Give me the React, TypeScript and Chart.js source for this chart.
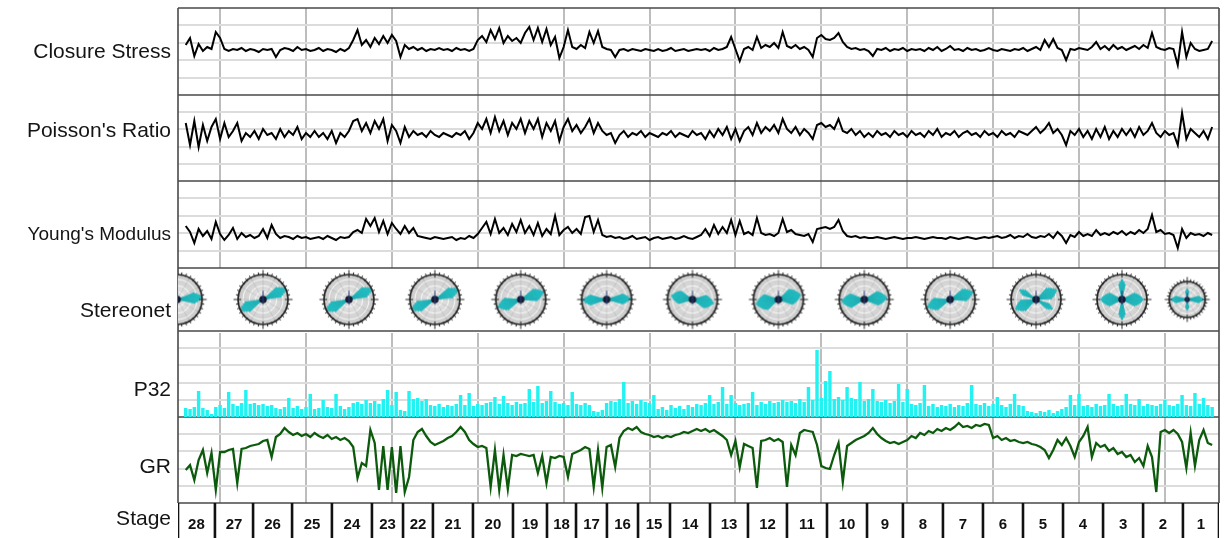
import React, { useEffect, useRef } from 'react';
import { Chart, registerables } from 'chart.js';

Chart.register(...registerables);

// ---------------- depth axis ----------------
const MD_MIN = 9755;
const MD_MAX = 15815;
const MD_START = 9800;
const MD_STEP = 25;
const GRID_MD = [10000, 10500, 11000, 11500, 12000, 12500, 13000, 13500, 14000, 14500, 15000, 15500];

// ---------------- stages ----------------
const STAGE_BOUNDS = [9755, 9970, 10192, 10419, 10651, 10884, 11065, 11239, 11472, 11705, 11903, 12072, 12252, 12433, 12619, 12852, 13073, 13300, 13533, 13766, 13975, 14208, 14441, 14674, 14907, 15140, 15373, 15605, 15815];
const STAGE_LABELS = ['28', '27', '26', '25', '24', '23', '22', '21', '20', '19', '18', '17', '16', '15', '14', '13', '12', '11', '10', '9', '8', '7', '6', '5', '4', '3', '2', '1'];

const TRACK_LABELS = ['Closure Stress', "Poisson's Ratio", "Young's Modulus", 'Stereonet', 'P32', 'GR', 'Stage'];

// ---------------- log curves (sampled every 25 ft from 9800 ft) ----------------
const CLOSURE_STRESS = [
  0.90, 0.97, 0.79, 0.91, 0.84, 0.88, 0.86, 1.03, 0.97, 0.86,
  0.84, 0.86, 0.85, 0.87, 0.84, 0.86, 0.85, 0.83, 0.86, 0.85,
  0.86, 0.78, 0.85, 0.87, 0.86, 0.84, 0.88, 0.85, 0.86, 0.84,
  0.85, 0.87, 0.84, 0.86, 0.85, 0.83, 0.86, 0.84, 0.87, 0.95,
  1.05, 0.90, 0.95, 0.88, 0.97, 0.91, 0.99, 0.92, 1.00, 0.94,
  0.78, 0.90, 0.86, 0.88, 0.85, 0.87, 0.84, 0.86, 0.85, 0.87,
  0.85, 0.86, 0.84, 0.87, 0.85, 0.86, 0.84, 0.86, 0.95, 0.99,
  0.93, 1.05, 0.96, 1.07, 0.92, 0.99, 0.94, 0.97, 0.92, 1.02,
  1.08, 0.95, 1.07, 0.93, 1.06, 0.90, 0.98, 0.77, 0.88, 1.05,
  0.88, 0.86, 0.90, 0.87, 1.03, 0.92, 1.04, 0.88, 0.86, 0.85,
  0.78, 0.85, 0.86, 0.84, 0.86, 0.85, 0.84, 0.86, 0.85, 0.84,
  0.86, 0.84, 0.85, 0.87, 0.84, 0.85, 0.86, 0.84, 0.85, 0.86,
  0.85, 0.86, 0.84, 0.87, 0.85, 0.86, 0.88, 0.98, 0.86, 0.74,
  0.86, 0.88, 0.85, 0.98, 0.87, 0.90, 0.88, 0.92, 0.87, 1.03,
  0.89, 0.87, 0.90, 0.86, 0.88, 0.85, 0.78, 0.97, 1.00, 0.96,
  0.95, 0.97, 1.02, 0.93, 0.88, 0.86, 0.87, 0.85, 0.86, 0.84,
  0.79, 0.86, 0.85, 0.87, 0.84, 0.86, 0.85, 0.87, 0.84, 0.86,
  0.85, 0.86, 0.84, 0.87, 0.85, 0.88, 0.84, 0.86, 0.89, 0.85,
  0.86, 0.84, 0.87, 0.85, 0.86, 0.84, 0.85, 0.87, 0.85, 0.84,
  0.86, 0.85, 0.84, 0.86, 0.85, 0.87, 0.84, 0.86, 0.88, 0.85,
  0.95, 0.88, 0.96, 0.87, 0.85, 0.75, 0.86, 0.85, 0.87, 0.86,
  0.85, 0.88, 0.93, 0.86, 0.89, 0.85, 0.90, 0.86, 0.88, 0.85,
  0.87, 0.89, 0.86, 0.90, 0.87, 1.02, 0.88, 0.86, 0.85, 0.87,
  0.86, 0.70, 1.03, 0.78, 0.92, 0.86, 0.84, 0.85, 0.86, 0.94,
];

const POISSONS_RATIO = [
  0.29, 0.18, 0.30, 0.17, 0.28, 0.20, 0.27, 0.31, 0.21, 0.29,
  0.22, 0.25, 0.29, 0.20, 0.24, 0.22, 0.25, 0.21, 0.26, 0.23,
  0.24, 0.21, 0.26, 0.22, 0.25, 0.23, 0.27, 0.21, 0.24, 0.22,
  0.25, 0.22, 0.24, 0.21, 0.25, 0.19, 0.24, 0.22, 0.25, 0.30,
  0.31, 0.25, 0.29, 0.24, 0.30, 0.26, 0.31, 0.20, 0.28, 0.25,
  0.19, 0.27, 0.22, 0.25, 0.23, 0.24, 0.22, 0.25, 0.23, 0.22,
  0.24, 0.23, 0.22, 0.24, 0.23, 0.25, 0.21, 0.24, 0.29, 0.26,
  0.31, 0.24, 0.32, 0.25, 0.30, 0.23, 0.29, 0.26, 0.31, 0.24,
  0.30, 0.26, 0.31, 0.22, 0.29, 0.25, 0.30, 0.20, 0.27, 0.31,
  0.25, 0.28, 0.24, 0.27, 0.31, 0.24, 0.29, 0.25, 0.23, 0.24,
  0.19, 0.23, 0.25, 0.22, 0.24, 0.23, 0.25, 0.22, 0.24, 0.23,
  0.22, 0.24, 0.23, 0.25, 0.22, 0.24, 0.23, 0.22, 0.25, 0.23,
  0.24, 0.21, 0.25, 0.22, 0.26, 0.23, 0.27, 0.21, 0.26, 0.20,
  0.25, 0.27, 0.23, 0.29, 0.24, 0.27, 0.25, 0.28, 0.24, 0.31,
  0.26, 0.24, 0.27, 0.23, 0.26, 0.24, 0.21, 0.28, 0.29, 0.27,
  0.28, 0.26, 0.31, 0.25, 0.24, 0.26, 0.23, 0.25, 0.22, 0.24,
  0.22, 0.25, 0.23, 0.24, 0.22, 0.25, 0.23, 0.24, 0.22, 0.25,
  0.23, 0.24, 0.22, 0.25, 0.23, 0.26, 0.22, 0.24, 0.23, 0.25,
  0.22, 0.24, 0.25, 0.23, 0.24, 0.22, 0.25, 0.23, 0.24, 0.22,
  0.25, 0.23, 0.24, 0.22, 0.25, 0.24, 0.23, 0.25, 0.27, 0.24,
  0.26, 0.29, 0.24, 0.26, 0.23, 0.18, 0.25, 0.23, 0.26, 0.22,
  0.25, 0.21, 0.26, 0.22, 0.27, 0.21, 0.25, 0.22, 0.26, 0.23,
  0.26, 0.22, 0.27, 0.23, 0.25, 0.29, 0.24, 0.22, 0.25, 0.23,
  0.24, 0.18, 0.34, 0.21, 0.26, 0.24, 0.22, 0.25, 0.21, 0.27,
];

const YOUNGS_MODULUS = [
  4.2, 3.6, 2.5, 3.9, 3.2, 3.7, 2.9, 4.6, 3.4, 2.8,
  3.3, 4.0, 2.9, 3.5, 3.1, 3.3, 3.0, 3.2, 3.9, 3.0,
  4.3, 3.4, 3.0, 3.2, 3.1, 2.9, 3.2, 3.0, 3.1, 2.9,
  3.0, 3.1, 2.9, 3.2, 3.0, 2.8, 3.1, 3.0, 3.1, 3.6,
  3.8, 3.5, 4.9, 4.2, 5.0, 3.6, 4.7, 3.4, 4.5, 3.9,
  3.4, 4.2, 3.5, 4.0, 3.2, 3.1, 3.0, 2.9, 3.1, 3.0,
  2.9, 3.0, 3.1, 2.8, 3.0, 2.9, 3.2, 3.0, 3.4, 4.0,
  4.6, 3.4, 4.9, 3.5, 4.0, 3.3, 4.4, 3.6, 4.8, 3.5,
  4.2, 3.3, 4.5, 3.2, 3.9, 3.4, 5.2, 3.3, 3.8, 4.1,
  3.5, 3.9, 3.4, 5.1, 5.2, 3.6, 4.8, 3.3, 3.1, 3.2,
  3.0, 3.1, 2.9, 3.0, 3.2, 2.9, 3.0, 3.1, 2.8, 3.0,
  3.1, 2.9, 3.0, 3.1, 2.9, 3.0, 3.2, 3.0, 2.9, 3.1,
  3.3, 3.9, 3.2, 4.3, 3.4, 4.1, 3.5, 4.8, 3.3, 4.7,
  3.4, 3.6, 3.3, 5.0, 3.5, 3.3, 3.4, 3.2, 3.5, 4.9,
  3.6, 3.8, 3.4, 3.3, 3.2, 3.4, 2.6, 3.9, 4.0, 4.1,
  3.9, 4.1, 4.8, 3.7, 3.2, 3.1, 3.2, 3.0, 3.1, 3.0,
  3.0, 3.1, 3.0, 2.9, 3.0, 3.1, 3.0, 2.9, 3.0, 3.0,
  3.1, 3.0, 2.9, 3.0, 3.1, 3.0, 3.0, 2.9, 3.1, 3.0,
  2.9, 3.0, 3.1, 3.0, 2.9, 3.0, 3.1, 3.0, 3.1, 3.2,
  3.0, 3.1, 3.3, 3.0, 3.2, 3.1, 3.4, 3.1, 3.0, 3.2,
  3.1, 3.4, 3.0, 3.6, 3.2, 2.5, 3.3, 3.1, 3.6, 3.2,
  3.4, 3.2, 3.8, 3.3, 3.5, 3.3, 3.6, 3.4, 3.7, 3.3,
  3.6, 3.4, 3.8, 3.5, 3.9, 5.3, 3.6, 3.8, 3.4, 3.5,
  3.3, 2.0, 3.9, 3.0, 3.5, 3.3, 3.4, 3.2, 3.5, 3.3,
];

const P32 = [
  0.09, 0.08, 0.10, 0.26, 0.09, 0.07, 0.03, 0.10, 0.12, 0.09,
  0.25, 0.13, 0.11, 0.14, 0.27, 0.13, 0.14, 0.12, 0.13, 0.11,
  0.12, 0.09, 0.08, 0.10, 0.19, 0.09, 0.11, 0.08, 0.10, 0.23,
  0.08, 0.09, 0.17, 0.10, 0.09, 0.23, 0.11, 0.08, 0.10, 0.14,
  0.15, 0.13, 0.17, 0.14, 0.16, 0.13, 0.18, 0.27, 0.12, 0.25,
  0.07, 0.06, 0.26, 0.18, 0.19, 0.16, 0.18, 0.12, 0.11, 0.13,
  0.10, 0.12, 0.11, 0.13, 0.22, 0.12, 0.24, 0.11, 0.13, 0.12,
  0.14, 0.15, 0.20, 0.13, 0.21, 0.14, 0.12, 0.15, 0.13, 0.14,
  0.28, 0.15, 0.31, 0.14, 0.16, 0.26, 0.15, 0.13, 0.14, 0.12,
  0.25, 0.13, 0.12, 0.14, 0.12, 0.06, 0.05, 0.07, 0.14, 0.16,
  0.15, 0.18, 0.35, 0.14, 0.16, 0.13, 0.17, 0.15, 0.14, 0.22,
  0.08, 0.10, 0.07, 0.12, 0.09, 0.11, 0.08, 0.12, 0.10, 0.13,
  0.12, 0.14, 0.22, 0.13, 0.15, 0.30, 0.13, 0.22, 0.14, 0.12,
  0.13, 0.14, 0.25, 0.12, 0.15, 0.13, 0.16, 0.14, 0.15, 0.17,
  0.15, 0.16, 0.14, 0.18, 0.15, 0.30, 0.17, 0.67, 0.19, 0.36,
  0.46, 0.18, 0.20, 0.17, 0.30, 0.19, 0.18, 0.35, 0.16, 0.18,
  0.28, 0.16, 0.15, 0.17, 0.14, 0.16, 0.33, 0.15, 0.28, 0.13,
  0.12, 0.14, 0.32, 0.11, 0.13, 0.10, 0.12, 0.11, 0.13, 0.10,
  0.12, 0.11, 0.14, 0.32, 0.13, 0.12, 0.14, 0.11, 0.13, 0.20,
  0.12, 0.10, 0.13, 0.23, 0.12, 0.11, 0.06, 0.05, 0.04, 0.06,
  0.05, 0.07, 0.04, 0.06, 0.08, 0.10, 0.22, 0.12, 0.23, 0.11,
  0.12, 0.10, 0.13, 0.11, 0.12, 0.23, 0.13, 0.11, 0.12, 0.23,
  0.13, 0.12, 0.18, 0.11, 0.13, 0.12, 0.11, 0.13, 0.17, 0.12,
  0.11, 0.13, 0.22, 0.12, 0.11, 0.24, 0.13, 0.19, 0.12, 0.10,
];

const GR = [
  66, 76, 46, 86, 106, 60, 100, 26, 102, 102,
  106, 108, 40, 108, 110, 114, 116, 118, 124, 126,
  92, 132, 138, 150, 142, 136, 140, 134, 138, 132,
  140, 134, 130, 136, 128, 132, 126, 130, 124, 112,
  50, 80, 74, 146, 120, 26, 114, 26, 112, 20,
  114, 22, 52, 126, 142, 148, 134, 122, 116, 120,
  124, 130, 134, 142, 152, 142, 126, 118, 112, 114,
  110, 32, 106, 26, 96, 28, 96, 94, 98, 96,
  94, 96, 60, 94, 40, 92, 90, 94, 92, 52,
  98, 102, 106, 112, 108, 32, 106, 30, 112, 116,
  72, 130, 144, 150, 146, 152, 142, 138, 136, 132,
  134, 130, 134, 132, 136, 138, 142, 140, 144, 148,
  144, 148, 142, 146, 140, 134, 126, 96, 124, 72,
  118, 114, 110, 30, 124, 126, 130, 124, 128, 122,
  32, 116, 96, 140, 146, 144, 142, 116, 74, 70,
  68, 96, 120, 42, 114, 120, 126, 130, 134, 140,
  150, 138, 130, 124, 120, 122, 118, 122, 126, 134,
  130, 140, 136, 144, 140, 148, 144, 150, 146, 152,
  160, 152, 154, 150, 156, 154, 158, 156, 130, 134,
  126, 130, 124, 126, 122, 120, 122, 118, 116, 112,
  106, 90, 106, 126, 116, 130, 114, 92, 122, 134,
  152, 92, 120, 112, 116, 104, 110, 98, 102, 92,
  96, 82, 90, 74, 114, 92, 22, 142, 146, 140,
  146, 138, 122, 70, 140, 74, 126, 146, 120, 116,
];

// ---------------- stereonet (rose) summaries per stage group ----------------
const STEREO_MD = [9750, 10250, 10750, 11250, 11750, 12250, 12750, 13250, 13750, 14250, 14750, 15250, 15630];
const STEREO_AZ = [85, 65, 65, 67, 72, 88, 100, 78, 85, 72, 65, 90, 90];
const STEREO_SPREAD = [15, 15, 15, 15, 20, 15, 25, 30, 25, 20, 20, 25, 15];
const STEREO_LEN = [1.0, 1.0, 1.0, 1.0, 0.95, 0.95, 0.85, 0.9, 0.9, 0.95, 0.9, 0.85, 0.9];
const STEREO_AZ2 = [0, 0, 0, 0, 0, 0, 0, 0, 0, 0, 120, 0, 0];
const STEREO_LEN2 = [0, 0, 0, 0, 0, 0, 0, 0, 0, 0, 0.75, 0.8, 0.6];
const STEREO_COUNT = [140, 160, 150, 170, 150, 140, 130, 160, 150, 140, 130, 120, 40];

// ---------------- drawing helpers ----------------
function makeStereonet(R: number, az: number, spread: number, len: number, az2: number, len2: number) {
  const pad = 6;
  const size = Math.ceil(2 * R + 2 * pad);
  const c = document.createElement('canvas');
  c.width = size;
  c.height = size;
  const g = c.getContext('2d') as CanvasRenderingContext2D;
  const cx = size / 2;
  const cy = size / 2;
  const rad = (deg: number) => ((deg - 90) * Math.PI) / 180;

  const grad = g.createRadialGradient(cx, cy, 0, cx, cy, R);
  grad.addColorStop(0, '#e9e9e9');
  grad.addColorStop(1, '#cbcbcb');
  g.fillStyle = grad;
  g.beginPath();
  g.arc(cx, cy, R, 0, Math.PI * 2);
  g.fill();

  g.strokeStyle = 'rgba(255,255,255,0.9)';
  g.lineWidth = 1;
  for (const f of [0.3, 0.55, 0.8]) {
    g.beginPath();
    g.arc(cx, cy, R * f, 0, Math.PI * 2);
    g.stroke();
  }
  g.strokeStyle = 'rgba(120,120,120,0.35)';
  g.lineWidth = 0.6;
  for (let a = 0; a < 180; a += 30) {
    g.beginPath();
    g.moveTo(cx + R * Math.cos(rad(a)), cy + R * Math.sin(rad(a)));
    g.lineTo(cx - R * Math.cos(rad(a)), cy - R * Math.sin(rad(a)));
    g.stroke();
  }

  const petal = (a0: number, sp: number, ln: number) => {
    g.fillStyle = '#20c4c9';
    g.strokeStyle = '#18a7ac';
    g.lineWidth = 0.5;
    for (let d = -sp; d <= sp + 0.01; d += 5) {
      const w = 1 - Math.abs(d) / (sp + 10);
      const r = R * ln * (0.55 + 0.45 * w);
      for (const base of [a0, a0 + 180]) {
        g.beginPath();
        g.moveTo(cx, cy);
        g.arc(cx, cy, r, rad(base + d - 2.8), rad(base + d + 2.8));
        g.closePath();
        g.fill();
        g.stroke();
      }
    }
  };
  petal(az, spread, len);
  if (len2 > 0) petal(az2, 10, len2);

  g.fillStyle = '#141c33';
  g.beginPath();
  g.arc(cx, cy, Math.max(2.5, R * 0.15), 0, Math.PI * 2);
  g.fill();
  g.strokeStyle = '#2b3a78';
  g.lineWidth = 1;
  g.beginPath();
  g.moveTo(cx, cy - R * 0.35);
  g.lineTo(cx, cy + R * 0.2);
  g.stroke();

  g.strokeStyle = '#262626';
  g.lineWidth = 1.7;
  g.beginPath();
  g.arc(cx, cy, R, 0, Math.PI * 2);
  g.stroke();
  g.lineWidth = 1;
  for (let a = 0; a < 360; a += 10) {
    const long = a % 90 === 0;
    const r0 = long ? R - 3 : R - 1;
    const r1 = long ? R + 4.5 : R + 2.5;
    g.beginPath();
    g.moveTo(cx + r0 * Math.cos(rad(a)), cy + r0 * Math.sin(rad(a)));
    g.lineTo(cx + r1 * Math.cos(rad(a)), cy + r1 * Math.sin(rad(a)));
    g.stroke();
  }
  return c;
}

const Y_IDS = ['yCS', 'yPR', 'yYM', 'yST', 'yP32', 'yGR', 'yStage'];
const LABEL_FRAC = [0.575, 0.483, 0.678, 0.778, 0.75, 0.648, 0.62];
const LABEL_SIZE = [21, 21, 19, 21, 21, 21, 21];

const trackPlugin = {
  id: 'trackFrame',
  beforeDatasetsDraw(chart: any) {
    const ctx = chart.ctx;
    const a = chart.chartArea;
    ctx.save();
    ctx.fillStyle = '#ffffff';
    for (const id of ['yST', 'yStage']) {
      const s = chart.scales[id];
      ctx.fillRect(a.left, s.top, a.right - a.left, s.bottom - s.top + 2);
    }
    ctx.strokeStyle = '#4a4a4a';
    ctx.lineWidth = 1.6;
    ctx.beginPath();
    for (const id of Y_IDS) {
      const y = Math.round(chart.scales[id].top);
      ctx.moveTo(a.left, y);
      ctx.lineTo(a.right, y);
    }
    const bottom = chart.scales.yStage.top;
    ctx.moveTo(Math.round(a.left), a.top);
    ctx.lineTo(Math.round(a.left), bottom);
    ctx.moveTo(Math.round(a.right), a.top);
    ctx.lineTo(Math.round(a.right), bottom);
    ctx.stroke();
    ctx.restore();
  },
  afterDraw(chart: any) {
    const ctx = chart.ctx;
    const a = chart.chartArea;
    ctx.save();
    ctx.fillStyle = '#141414';
    ctx.textAlign = 'right';
    ctx.textBaseline = 'alphabetic';
    Y_IDS.forEach((id, k) => {
      const s = chart.scales[id];
      ctx.font = LABEL_SIZE[k] + 'px "Liberation Sans", Arial, sans-serif';
      ctx.fillText(TRACK_LABELS[k], a.left - 7, s.top + (s.bottom - s.top) * LABEL_FRAC[k]);
    });
    const xs = chart.scales.x;
    const st = chart.scales.yStage;
    ctx.textAlign = 'center';
    ctx.font = 'bold 15px "Liberation Sans", Arial, sans-serif';
    ctx.fillStyle = '#111';
    STAGE_LABELS.forEach((lab, k) => {
      const xm = xs.getPixelForValue((STAGE_BOUNDS[k] + STAGE_BOUNDS[k + 1]) / 2);
      ctx.fillText(lab, xm, st.top + 26);
    });
    ctx.restore();
  },
};

function yAxis(weight: number, stackWeight: number, min: number, max: number, grid: boolean) {
  return {
    type: 'linear',
    position: 'left',
    stack: 'tracks',
    stackWeight,
    weight,
    min,
    max,
    offset: false,
    ticks: { display: false },
    border: { display: false },
    grid: { display: grid, drawTicks: false, color: '#dcdcdc', lineWidth: 2, offset: false },
    afterFit: (s: any) => {
      s.width = 0;
    },
    afterBuildTicks: (s: any) => {
      s.ticks = [1, 2, 3, 4].map((k) => ({ value: min + ((max - min) * k) / 5 }));
    },
  };
}

export default function App() {
  const ref = useRef<HTMLCanvasElement>(null);

  useEffect(() => {
    const canvas = ref.current;
    if (!canvas) return;
    const md = CLOSURE_STRESS.map((_, i) => MD_START + i * MD_STEP);
    const pts = (arr: number[]) => arr.map((v, i) => ({ x: md[i], y: v }));
    const stereoImgs = STEREO_MD.map((_, k) =>
      makeStereonet(STEREO_COUNT[k] >= 60 ? 25 : 18, STEREO_AZ[k], STEREO_SPREAD[k], STEREO_LEN[k], STEREO_AZ2[k], STEREO_LEN2[k])
    );
    const stageLines: any[] = [];
    STAGE_BOUNDS.forEach((b) => {
      stageLines.push({ x: b, y: 0 }, { x: b, y: 1 }, { x: b, y: null });
    });

    const traceStyle = { pointRadius: 0, tension: 0, fill: false };
    const logStyle = { ...traceStyle, borderColor: '#000', borderWidth: 2 };

    const chart = new Chart(canvas, {
      type: 'line',
      data: {
        datasets: [
          { type: 'line', data: pts(CLOSURE_STRESS), yAxisID: 'yCS', ...logStyle },
          { type: 'line', data: pts(POISSONS_RATIO), yAxisID: 'yPR', ...logStyle },
          { type: 'line', data: pts(YOUNGS_MODULUS), yAxisID: 'yYM', ...logStyle },
          {
            type: 'scatter',
            data: STEREO_MD.map((m) => ({ x: m, y: 0.5 })),
            yAxisID: 'yST',
            pointStyle: stereoImgs,
            pointRadius: 20,
            pointBorderWidth: 0,
            clip: 0,
          },
          {
            type: 'bar',
            data: pts(P32),
            yAxisID: 'yP32',
            backgroundColor: '#22f2f2',
            borderWidth: 0,
            barPercentage: 0.8,
            categoryPercentage: 1,
          },
          { type: 'line', data: pts(GR), yAxisID: 'yGR', borderColor: '#0c5a0c', borderWidth: 2.3, ...traceStyle },
          {
            type: 'line',
            data: stageLines,
            yAxisID: 'yStage',
            borderColor: '#111',
            borderWidth: 2.6,
            pointRadius: 0,
            spanGaps: false,
          },
        ],
      } as any,
      options: {
        responsive: false,
        animation: false,
        events: [],
        layout: { autoPadding: false, padding: { left: 178, right: 6, top: 8, bottom: 0 } },
        plugins: { legend: { display: false }, tooltip: { enabled: false }, title: { display: false } },
        scales: {
          x: {
            type: 'linear',
            min: MD_MIN,
            max: MD_MAX,
            offset: false,
            ticks: { display: false },
            border: { display: false },
            grid: { color: '#bdbdbd', lineWidth: 2, drawTicks: false, offset: false },
            afterFit: (s: any) => {
              s.height = 0;
            },
            afterBuildTicks: (s: any) => {
              s.ticks = GRID_MD.map((v) => ({ value: v }));
            },
          },
          yCS: yAxis(7, 87, 0.4, 1.27, true),
          yPR: yAxis(6, 86, 0.0, 0.43, true),
          yYM: yAxis(5, 87, 0.0, 8.7, true),
          yST: yAxis(4, 63, 0, 1, false),
          yP32: yAxis(3, 86, 0, 0.86, true),
          yGR: yAxis(2, 86, 0, 172, true),
          yStage: yAxis(1, 35, 0, 1, false),
        },
      } as any,
      plugins: [trackPlugin],
    });
    return () => chart.destroy();
  }, []);

  return (
    <div style={{ position: 'fixed', left: 0, top: 0, width: 1225, height: 538, background: '#fff' }}>
      <canvas ref={ref} width={1225} height={538} style={{ display: 'block' }} />
    </div>
  );
}
